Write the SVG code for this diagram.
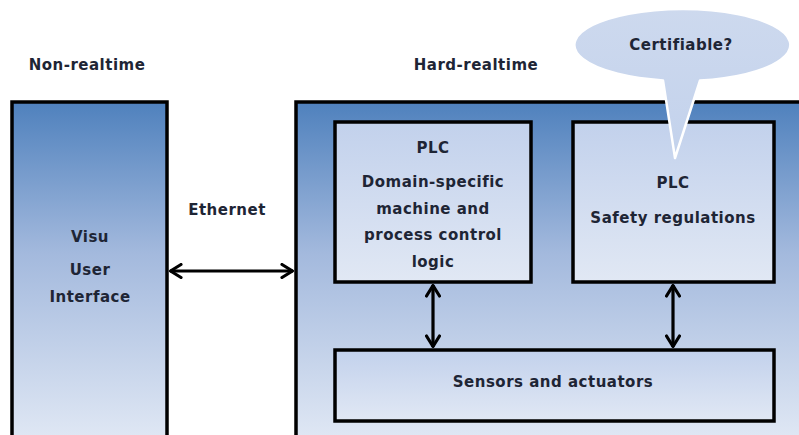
<svg xmlns="http://www.w3.org/2000/svg" width="799" height="435" viewBox="0 0 799 435">
<defs>
<linearGradient id="gOuter" x1="0" y1="0" x2="0" y2="1">
<stop offset="0" stop-color="#4f81bd"/>
<stop offset="0.45" stop-color="#a3b9dd"/>
<stop offset="1" stop-color="#dfe7f4"/>
</linearGradient>
<linearGradient id="gInner" x1="0" y1="0" x2="0" y2="1">
<stop offset="0" stop-color="#c2d1ec"/>
<stop offset="1" stop-color="#e1e8f4"/>
</linearGradient>
<linearGradient id="gCall" x1="0" y1="0" x2="0" y2="1">
<stop offset="0" stop-color="#cdd9ee"/>
<stop offset="1" stop-color="#c3d2ec"/>
</linearGradient>
<marker id="ah" viewBox="0 0 14 16" refX="13" refY="8" markerWidth="14" markerHeight="16" markerUnits="userSpaceOnUse" orient="auto-start-reverse">
<path d="M2,1.5 L12.5,8 L2,14.5" fill="none" stroke="#000" stroke-width="3.2" stroke-linecap="round" stroke-linejoin="round"/>
</marker>
<style>
.box{stroke:#000;stroke-width:3.5}
.t{font-family:"DejaVu Sans",Verdana,sans-serif;font-weight:bold;font-size:15px;fill:#1e2535;text-anchor:middle;letter-spacing:0.5px}
.c{stroke:#000;stroke-width:3.2;fill:none}
</style>
</defs>
<text class="t" x="87" y="70">Non-realtime</text>
<text class="t" x="476" y="70">Hard-realtime</text>
<g id="visu">
<rect class="box" x="12" y="102" width="155" height="335" fill="url(#gOuter)"/>
<text class="t" x="90" y="242">Visu</text>
<text class="t" x="90" y="275">User</text>
<text class="t" x="90" y="302">Interface</text>
</g>
<g id="hardrt">
<rect class="box" x="296" y="102" width="510" height="335" fill="url(#gOuter)"/>
</g>
<g id="plc1">
<rect class="box" x="335" y="122" width="196" height="160" fill="url(#gInner)"/>
<text class="t" x="433" y="153">PLC</text>
<text class="t" x="433" y="187">Domain-specific</text>
<text class="t" x="433" y="214">machine and</text>
<text class="t" x="433" y="240">process control</text>
<text class="t" x="433" y="267">logic</text>
</g>
<g id="plc2">
<rect class="box" x="573" y="122" width="201" height="160" fill="url(#gInner)"/>
<text class="t" x="673" y="188">PLC</text>
<text class="t" x="673" y="223">Safety regulations</text>
</g>
<g id="sensors">
<rect class="box" x="335" y="350" width="439" height="71" fill="url(#gInner)"/>
<text class="t" x="553" y="387">Sensors and actuators</text>
</g>
<g id="callout">
<path d="M663,80.4 A108,36 0 1 1 700,80.5 L675,158 Z" fill="url(#gCall)" stroke="#fff" stroke-width="2.5" stroke-linejoin="round"/>
<text class="t" x="681" y="50">Certifiable?</text>
</g>
<g id="connectors">
<line class="c" x1="170" y1="271" x2="293" y2="271" marker-start="url(#ah)" marker-end="url(#ah)"/>
<text class="t" x="227" y="215">Ethernet</text>
<line class="c" x1="433" y1="285" x2="433" y2="347" marker-start="url(#ah)" marker-end="url(#ah)"/>
<line class="c" x1="673" y1="285" x2="673" y2="347" marker-start="url(#ah)" marker-end="url(#ah)"/>
</g>
</svg>
